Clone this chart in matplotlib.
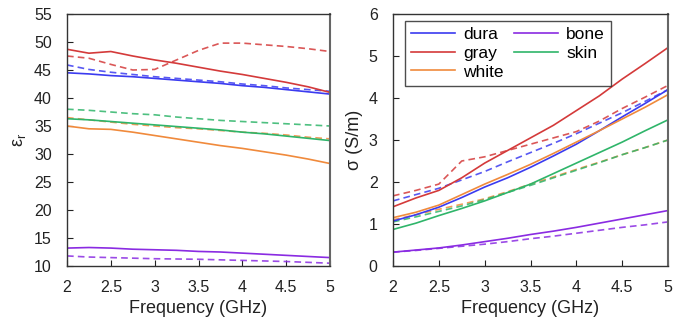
import matplotlib
matplotlib.use("Agg")
import matplotlib.pyplot as plt
import numpy as np

plt.rcParams['font.family'] = ['Liberation Sans', 'DejaVu Sans']

freq = [2, 2.25, 2.5, 2.75, 3, 3.25, 3.5, 3.75, 4, 4.25, 4.5, 4.75, 5]
tissues = ["dura", "gray", "white", "bone", "skin"]
colors = {"dura": "#3b3bf0", "gray": "#d43a3a", "white": "#f08a3c",
          "bone": "#8a2be2", "skin": "#2fb56a"}

eps_solid = {
    "gray":  [48.7, 48.0, 48.3, 47.5, 46.8, 46.2, 45.5, 44.8, 44.2, 43.5, 42.8, 42.0, 41.0],
    "dura":  [44.5, 44.3, 44.0, 43.8, 43.5, 43.2, 42.9, 42.6, 42.2, 41.9, 41.5, 41.1, 40.7],
    "skin":  [36.3, 36.1, 35.8, 35.5, 35.2, 34.9, 34.6, 34.3, 33.9, 33.6, 33.2, 32.8, 32.4],
    "white": [35.0, 34.5, 34.4, 33.9, 33.3, 32.7, 32.1, 31.5, 31.0, 30.4, 29.8, 29.1, 28.3],
    "bone":  [13.2, 13.3, 13.2, 13.0, 12.9, 12.8, 12.6, 12.5, 12.3, 12.1, 11.9, 11.7, 11.5],
}
eps_dashed = {
    "gray":  [47.5, 47.1, 46.0, 45.0, 45.1, 46.8, 48.5, 49.8, 49.8, 49.5, 49.2, 48.8, 48.3],
    "dura":  [45.9, 45.1, 44.6, 44.2, 43.8, 43.5, 43.2, 42.9, 42.5, 42.2, 41.8, 41.5, 41.2],
    "skin":  [38.0, 37.8, 37.5, 37.2, 37.0, 36.6, 36.3, 36.0, 35.8, 35.6, 35.4, 35.2, 35.0],
    "white": [36.5, 36.1, 35.7, 35.3, 35.0, 34.7, 34.5, 34.2, 33.9, 33.7, 33.4, 33.0, 32.7],
    "bone":  [11.8, 11.6, 11.5, 11.4, 11.3, 11.25, 11.2, 11.1, 11.0, 10.9, 10.8, 10.65, 10.5],
}
sig_solid = {
    "gray":  [1.41, 1.62, 1.8, 2.1, 2.45, 2.75, 3.05, 3.35, 3.7, 4.05, 4.45, 4.82, 5.2],
    "dura":  [1.07, 1.22, 1.4, 1.63, 1.88, 2.1, 2.35, 2.62, 2.9, 3.22, 3.55, 3.87, 4.2],
    "white": [1.15, 1.28, 1.45, 1.7, 1.95, 2.18, 2.42, 2.68, 2.95, 3.22, 3.5, 3.78, 4.08],
    "skin":  [0.87, 1.02, 1.2, 1.37, 1.55, 1.75, 1.95, 2.2, 2.45, 2.7, 2.95, 3.22, 3.48],
    "bone":  [0.33, 0.38, 0.43, 0.5, 0.58, 0.66, 0.75, 0.83, 0.92, 1.02, 1.12, 1.22, 1.32],
}
sig_dashed = {
    "gray":  [1.67, 1.8, 1.95, 2.5, 2.6, 2.75, 2.9, 3.05, 3.2, 3.45, 3.75, 4.02, 4.3],
    "dura":  [1.55, 1.7, 1.85, 2.05, 2.25, 2.48, 2.7, 2.92, 3.15, 3.4, 3.65, 3.92, 4.2],
    "white": [1.1, 1.22, 1.35, 1.47, 1.6, 1.77, 1.95, 2.12, 2.3, 2.47, 2.65, 2.82, 3.0],
    "skin":  [1.05, 1.17, 1.3, 1.43, 1.58, 1.75, 1.92, 2.1, 2.28, 2.46, 2.65, 2.82, 3.0],
    "bone":  [0.33, 0.37, 0.42, 0.47, 0.52, 0.58, 0.65, 0.71, 0.78, 0.85, 0.92, 0.98, 1.05],
}

fig = plt.figure(figsize=(6.86, 3.24), dpi=100)
ax1 = fig.add_axes([67/686, 1 - 266/324, (330-67)/686, (266-14)/324])
ax2 = fig.add_axes([393/686, 1 - 266/324, (668-393)/686, (266-14)/324])

dash = (0, (4, 2.5))
for ax, solid, dashed in [(ax1, eps_solid, eps_dashed), (ax2, sig_solid, sig_dashed)]:
    for t in tissues:
        ax.plot(freq, dashed[t], color=colors[t], lw=1.2, linestyle=dash, alpha=0.85)
    for t in tissues:
        ax.plot(freq, solid[t], color=colors[t], lw=1.2, label=t)
    ax.set_xlim(2, 5)
    ax.set_xticks([2, 2.5, 3, 3.5, 4, 4.5, 5])
    ax.set_xticklabels(["2", "2.5", "3", "3.5", "4", "4.5", "5"])
    ax.tick_params(direction='in', labelsize=11.5, length=4, colors='#222222')
    ax.tick_params(axis='x', pad=10)
    ax.tick_params(axis='y', pad=11)
    ax.set_xlabel("Frequency (GHz)", fontsize=13, color='#222222', labelpad=4)
    for s in ax.spines.values():
        s.set_color('#333333')
        s.set_linewidth(1.0)
    ax.spines['right'].set_color('#666666')
    ax.spines['right'].set_linewidth(1.5)

ax1.set_ylim(10, 55)
ax1.set_yticks(range(10, 56, 5))
ax1.set_ylabel(r"ε$_\mathregular{r}$", fontsize=13, color='#222222', labelpad=4)
ax2.set_ylim(0, 6)
ax2.set_yticks(range(0, 7))
ax2.set_ylabel("σ (S/m)", fontsize=13, color='#222222', labelpad=4)

handles, labels = ax2.get_legend_handles_labels()
leg = ax2.legend(handles, labels, ncol=2, loc='upper left', bbox_to_anchor=(0.044, 0.972),
                 fontsize=12.5, frameon=True, fancybox=False, edgecolor='#222222',
                 handlelength=2.5, handletextpad=0.5, columnspacing=0.6,
                 labelspacing=0.2, borderpad=0.35, borderaxespad=0)
leg.get_frame().set_linewidth(1.0)

fig.savefig("out.png", dpi=100)
